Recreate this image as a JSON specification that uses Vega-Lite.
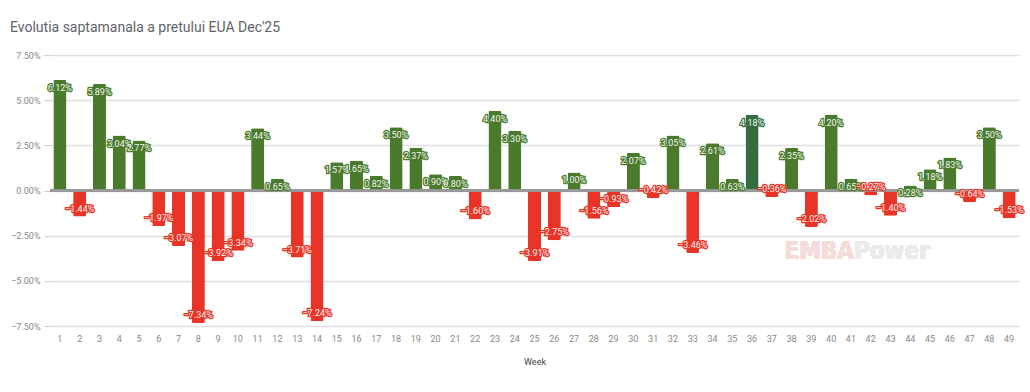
{
  "$schema": "https://vega.github.io/schema/vega-lite/v6.json",
  "width": 969,
  "height": 271,
  "autosize": {"type": "none"},
  "padding": {"left": 50, "top": 55, "right": 11, "bottom": 66},
  "background": "white",
  "title": {
    "text": "Evolutia saptamanala a pretului EUA Dec'25",
    "anchor": "start",
    "frame": "group",
    "dx": -40,
    "offset": 16,
    "fontSize": 14,
    "fontWeight": "normal",
    "font": "Roboto",
    "color": "#5f6368"
  },
  "config": {
    "view": {"stroke": null},
    "font": "Roboto"
  },
  "data": {
    "values": [
      {"week": 1, "value": 0.0612}, {"week": 2, "value": -0.0144}, {"week": 3, "value": 0.0589},
      {"week": 4, "value": 0.0304}, {"week": 5, "value": 0.0277}, {"week": 6, "value": -0.0197},
      {"week": 7, "value": -0.0307}, {"week": 8, "value": -0.0734}, {"week": 9, "value": -0.0392},
      {"week": 10, "value": -0.0334}, {"week": 11, "value": 0.0344}, {"week": 12, "value": 0.0065},
      {"week": 13, "value": -0.0371}, {"week": 14, "value": -0.0724}, {"week": 15, "value": 0.0157},
      {"week": 16, "value": 0.0165}, {"week": 17, "value": 0.0082}, {"week": 18, "value": 0.035},
      {"week": 19, "value": 0.0237}, {"week": 20, "value": 0.009}, {"week": 21, "value": 0.008},
      {"week": 22, "value": -0.016}, {"week": 23, "value": 0.044}, {"week": 24, "value": 0.033},
      {"week": 25, "value": -0.0391}, {"week": 26, "value": -0.0275}, {"week": 27, "value": 0.01},
      {"week": 28, "value": -0.0156}, {"week": 29, "value": -0.0093}, {"week": 30, "value": 0.0207},
      {"week": 31, "value": -0.0042}, {"week": 32, "value": 0.0305}, {"week": 33, "value": -0.0346},
      {"week": 34, "value": 0.0261}, {"week": 35, "value": 0.0063}, {"week": 36, "value": 0.0418},
      {"week": 37, "value": -0.0036}, {"week": 38, "value": 0.0235}, {"week": 39, "value": -0.0202},
      {"week": 40, "value": 0.042}, {"week": 41, "value": 0.0065}, {"week": 42, "value": -0.0027},
      {"week": 43, "value": -0.014}, {"week": 44, "value": 0.0028}, {"week": 45, "value": 0.0118},
      {"week": 46, "value": 0.0183}, {"week": 47, "value": -0.0064}, {"week": 48, "value": 0.035},
      {"week": 49, "value": -0.0153}
    ]
  },
  "encoding": {
    "x": {
      "field": "week",
      "type": "ordinal",
      "sort": null,
      "scale": {"paddingInner": 0.34, "paddingOuter": 0.17},
      "axis": {
        "title": "Week",
        "titleFontSize": 9,
        "titleFontWeight": "normal",
        "titleColor": "#444",
        "titlePadding": 14,
        "labelAngle": 0,
        "labelFontSize": 9,
        "labelColor": "#888",
        "labelPadding": 8,
        "ticks": false,
        "domain": false,
        "grid": false
      }
    }
  },
  "layer": [
    {
      "mark": {"type": "bar", "cornerRadius": 1.5},
      "encoding": {
        "y": {
          "field": "value",
          "type": "quantitative",
          "scale": {"domain": [-0.075, 0.075], "nice": false},
          "axis": {
            "title": null,
            "format": ".2%",
            "values": [-0.075, -0.05, -0.025, 0, 0.025, 0.05, 0.075],
            "labelFontSize": 9,
            "labelColor": "#888",
            "labelPadding": 4,
            "tickColor": "#ccc",
            "tickSize": 6,
            "domain": false,
            "gridColor": "#e0e0e0",
            "gridWidth": 1.5
          }
        },
        "color": {
          "condition": [
            {"test": "datum.week == 36", "value": "#346e3f"},
            {"test": "datum.value < 0", "value": "#e83426"}
          ],
          "value": "#4a7a2b"
        }
      }
    },
    {
      "mark": {"type": "rule", "color": "#999", "strokeWidth": 1.5},
      "encoding": {"y": {"datum": 0, "type": "quantitative"}, "x": {"value": 0}, "x2": {"value": 969}}
    },
    {
      "mark": {"type": "text", "fontSize": 24, "font": "DejaVu Sans Condensed, Roboto Condensed, Liberation Sans Narrow, sans-serif", "fontWeight": "bold", "color": "#f6dcd8", "align": "right", "dx": 3},
      "encoding": {
        "x": {"datum": 41},
        "y": {"datum": -0.034, "type": "quantitative"},
        "text": {"value": "EMBA"}
      }
    },
    {
      "mark": {"type": "text", "fontSize": 24, "font": "DejaVu Sans Condensed, Roboto Condensed, Liberation Sans Narrow, sans-serif", "fontWeight": "bold", "color": "#ebebeb", "align": "left", "dx": 3},
      "encoding": {
        "x": {"datum": 41},
        "y": {"datum": -0.034, "type": "quantitative"},
        "text": {"value": "Power"}
      }
    },
    {
      "transform": [{"filter": "datum.value >= 0"}],
      "mark": {"type": "text", "fontSize": 9, "baseline": "middle", "dy": 8, "strokeWidth": 2.5, "strokeJoin": "round"},
      "encoding": {
        "y": {"field": "value", "type": "quantitative"},
        "text": {"field": "value", "type": "quantitative", "format": ".2%"},
        "stroke": {
          "condition": {"test": "datum.week == 36", "value": "#346e3f"},
          "value": "#4a7a2b"
        },
        "color": {
          "condition": {"test": "datum.week == 36", "value": "#346e3f"},
          "value": "#4a7a2b"
        }
      }
    },
    {
      "transform": [{"filter": "datum.value >= 0"}],
      "mark": {"type": "text", "fontSize": 9, "baseline": "middle", "dy": 8, "color": "#f2f6ee"},
      "encoding": {
        "y": {"field": "value", "type": "quantitative"},
        "text": {"field": "value", "type": "quantitative", "format": ".2%"}
      }
    },
    {
      "transform": [{"filter": "datum.value < 0"}],
      "mark": {"type": "text", "fontSize": 9, "baseline": "middle", "dy": -8, "stroke": "#e83426", "color": "#e83426", "strokeWidth": 2.5, "strokeJoin": "round"},
      "encoding": {
        "y": {"field": "value", "type": "quantitative"},
        "text": {"field": "value", "type": "quantitative", "format": ".2%"}
      }
    },
    {
      "transform": [{"filter": "datum.value < 0"}],
      "mark": {"type": "text", "fontSize": 9, "baseline": "middle", "dy": -8, "color": "#fff3f1"},
      "encoding": {
        "y": {"field": "value", "type": "quantitative"},
        "text": {"field": "value", "type": "quantitative", "format": ".2%"}
      }
    }
  ]
}
